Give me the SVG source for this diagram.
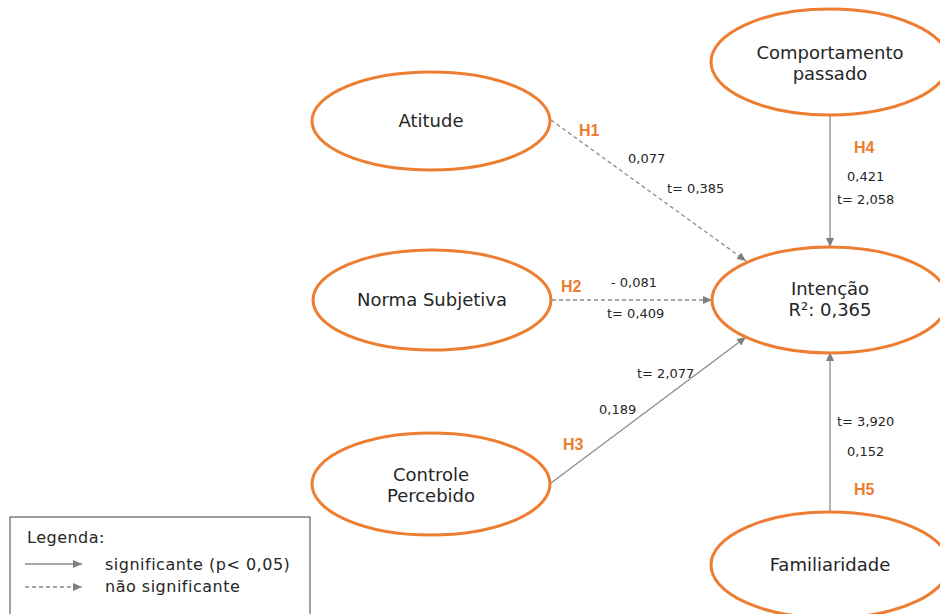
<svg xmlns="http://www.w3.org/2000/svg" width="940" height="614" viewBox="0 0 940 614">
<style>
.node{fill:#ffffff;stroke:#ED7D31;stroke-width:3}
.nt{font-family:"DejaVu Sans",sans-serif;font-size:18px;fill:#262626;text-anchor:middle}
.lbl{font-family:"DejaVu Sans",sans-serif;font-size:13px;fill:#262626}
.h{font-family:"Liberation Sans",sans-serif;font-weight:bold;font-size:16px;fill:#ED7D31}
.sig{stroke:#8c8c8c;stroke-width:1.3;fill:none}
.ns{stroke:#8c8c8c;stroke-width:1.3;fill:none;stroke-dasharray:4 3}
.leg{font-family:"DejaVu Sans",sans-serif;font-size:16px;letter-spacing:0.5px;fill:#262626}
</style>
<defs>
<marker id="arr" markerUnits="userSpaceOnUse" markerWidth="10" markerHeight="8" refX="9" refY="4" orient="auto">
<path d="M0,0 L9,4 L0,8 Z" fill="#7f7f7f"/>
</marker>
</defs>
<rect width="940" height="614" fill="#ffffff"/>
<g id="connectors">
<line class="ns" x1="551" y1="120" x2="746" y2="261" marker-end="url(#arr)"/>
<line class="ns" x1="552" y1="300" x2="712" y2="300" marker-end="url(#arr)"/>
<line class="sig" x1="551" y1="483" x2="746" y2="337" marker-end="url(#arr)"/>
<line class="sig" x1="830" y1="115" x2="830" y2="247" marker-end="url(#arr)"/>
<line class="sig" x1="830" y1="512" x2="830" y2="352" marker-end="url(#arr)"/>
</g>
<g id="edge-labels">
<text class="h" x="579" y="136">H1</text>
<text class="lbl" x="628" y="163">0,077</text>
<text class="lbl" x="667" y="193">t= 0,385</text>
<text class="h" x="561" y="292">H2</text>
<text class="lbl" x="611" y="287">- 0,081</text>
<text class="lbl" x="607" y="318">t= 0,409</text>
<text class="lbl" x="637" y="378">t= 2,077</text>
<text class="lbl" x="599" y="414">0,189</text>
<text class="h" x="563" y="450">H3</text>
<text class="h" x="854" y="153">H4</text>
<text class="lbl" x="847" y="181">0,421</text>
<text class="lbl" x="837" y="204">t= 2,058</text>
<text class="lbl" x="837" y="426">t= 3,920</text>
<text class="lbl" x="847" y="456">0,152</text>
<text class="h" x="854" y="495">H5</text>
</g>
<g id="atitude">
<ellipse class="node" cx="431" cy="121" rx="119" ry="49"/>
<text class="nt" x="431" y="127">Atitude</text>
</g>
<g id="norma-subjetiva">
<ellipse class="node" cx="432" cy="300" rx="119" ry="50"/>
<text class="nt" x="432" y="306">Norma Subjetiva</text>
</g>
<g id="controle-percebido">
<ellipse class="node" cx="431" cy="484" rx="119" ry="51"/>
<text class="nt" x="431" y="481">Controle</text>
<text class="nt" x="431" y="502">Percebido</text>
</g>
<g id="comportamento-passado">
<ellipse class="node" cx="830" cy="62" rx="119" ry="53"/>
<text class="nt" x="830" y="59">Comportamento</text>
<text class="nt" x="830" y="80">passado</text>
</g>
<g id="intencao">
<ellipse class="node" cx="830" cy="300" rx="118" ry="53"/>
<text class="nt" x="830" y="295">Intenção</text>
<text class="nt" x="830" y="316">R²: 0,365</text>
</g>
<g id="familiaridade">
<ellipse class="node" cx="830" cy="565" rx="119" ry="53"/>
<text class="nt" x="830" y="571">Familiaridade</text>
</g>
<g id="legend">
<rect x="10" y="517" width="300" height="110" fill="#ffffff" stroke="#404040" stroke-width="1"/>
<text class="leg" x="27" y="543">Legenda:</text>
<line class="sig" x1="25" y1="564" x2="82" y2="564" marker-end="url(#arr)"/>
<text class="leg" x="105" y="570">significante (p&lt; 0,05)</text>
<line class="ns" x1="25" y1="587" x2="82" y2="587" marker-end="url(#arr)"/>
<text class="leg" x="105" y="592">não significante</text>
</g>
</svg>
